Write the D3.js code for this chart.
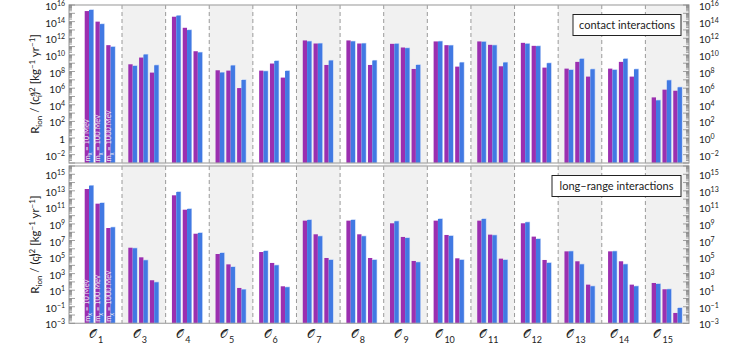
<!DOCTYPE html>
<html>
<head>
<meta charset="utf-8">
<script src="https://cdn.jsdelivr.net/npm/d3@7"></script>
<style>
  body { margin: 0; background: #fff; }
  svg { font-family: Lato, "Open Sans", sans-serif; }
</style>
</head>
<body>
<svg id="chart" width="747" height="347"></svg>
<script>
// operator labels (O2 is not shown)
const operators = ["1", "3", "4", "5", "6", "7", "8", "9", "10", "11", "12", "13", "14", "15"];
const masses = ["10", "100", "1000"];

// log10 of the rate: [m=10, m=100, m=1000] per operator
// contact interactions
const contactPurple = [
  [15.27, 14.0, 11.17], [8.87, 9.68, 7.87], [14.59, 13.26, 10.44], [8.15, 8.11, 6.01],
  [8.11, 8.96, 7.27], [11.74, 11.37, 8.79], [11.74, 11.37, 8.79], [11.33, 10.89, 8.31],
  [11.62, 11.17, 8.59], [11.62, 11.21, 8.63], [11.45, 11.09, 8.47], [8.35, 9.16, 7.39],
  [8.35, 9.16, 7.39], [4.89, 5.82, 5.69]
];
const contactBlue = [
  [15.4, 13.7, 10.96], [8.67, 10.04, 8.75], [14.71, 12.98, 10.29], [7.87, 8.72, 6.98],
  [8.03, 9.27, 8.07], [11.62, 11.37, 9.32], [11.62, 11.37, 9.32], [11.33, 10.81, 8.79],
  [11.62, 11.13, 9.08], [11.57, 11.15, 9.08], [11.33, 11.05, 9.0], [8.19, 9.52, 8.27],
  [8.19, 9.52, 8.27], [4.53, 6.94, 6.1]
];
// long-range interactions
const longPurple = [
  [13.22, 11.45, 8.51], [6.13, 4.97, 2.2], [12.46, 10.72, 7.82], [5.37, 4.12, 1.27],
  [5.61, 4.29, 1.47], [9.4, 7.75, 4.89], [9.4, 7.75, 4.89], [9.08, 7.43, 4.53],
  [9.4, 7.67, 4.85], [9.4, 7.71, 4.81], [9.08, 7.47, 4.65], [5.69, 4.49, 1.67],
  [5.69, 4.49, 1.67], [1.87, 1.11, -1.75]
];
const longBlue = [
  [13.62, 11.53, 8.59], [6.06, 4.61, 1.95], [12.86, 10.81, 7.91], [5.49, 3.8, 1.07],
  [5.73, 4.0, 1.35], [9.48, 7.51, 4.65], [9.48, 7.51, 4.65], [9.32, 7.3, 4.37],
  [9.6, 7.55, 4.65], [9.6, 7.63, 4.65], [9.2, 7.18, 4.29], [5.69, 4.12, 1.47],
  [5.69, 4.12, 1.47], [1.75, 1.11, -1.15]
];

const topLabels = [16, 14, 12, 10, 8, 6, 4, 2, 0, -2];
const bottomLabels = [15, 13, 11, 9, 7, 5, 3, 1, -1, -3];

const purple = "#9b2fb0";
const blue = "#4179e3";

const svg = d3.select("#chart");

const plotLeft = 69, plotRight = 689;
const x = d3.scaleBand().domain(operators).range([78.4, 689]);
const xm = d3.scaleBand().domain(masses).range([6.3, 36.5]).paddingInner(0.2);
const xc = d3.scaleBand().domain(["p", "b"]).range([0, xm.bandwidth()]);

const panels = [
  { top: 5, bottom: 163, purpleVals: contactPurple, blueVals: contactBlue, labels: topLabels,
    title: "contact interactions", sup: "s", boxW: 108 },
  { top: 166, bottom: 323.3, purpleVals: longPurple, blueVals: longBlue, labels: bottomLabels,
    title: "long\u2013range interactions", sup: "l", boxW: 129 }
];

// shading across both panels
operators.forEach((op, i) => {
  if (i % 2 === 1) {
    svg.append("rect")
      .attr("x", x(op)).attr("y", 5)
      .attr("width", x.bandwidth()).attr("height", 323.3 - 5)
      .attr("fill", "#f1f1f1");
  }
});
// dividers
operators.slice(1).forEach(op => {
  svg.append("line")
    .attr("x1", x(op)).attr("x2", x(op))
    .attr("y1", 5).attr("y2", 323.3)
    .attr("stroke", "#9a9a9a").attr("stroke-width", 1)
    .attr("stroke-dasharray", "4,3");
});

function supLabel(sel, base, exp, anchor) {
  const t = sel.append("text")
    .attr("text-anchor", anchor)
    .attr("font-size", 10)
    .attr("fill", "#222");
  t.append("tspan").text(base);
  if (exp !== null) {
    t.append("tspan").attr("dy", -4).attr("font-size", 7).text(exp);
  }
  return t;
}

panels.forEach((p, pi) => {
  const y = d3.scaleLog().domain([1e-3, 1e16]).range([p.bottom, p.top]);
  const g = svg.append("g");

  // bars
  operators.forEach((op, i) => {
    masses.forEach((m, j) => {
      const bx = x(op) + xm(m);
      const vp = Math.pow(10, p.purpleVals[i][j]);
      const vb = Math.pow(10, p.blueVals[i][j]);
      g.append("rect")
        .attr("x", bx + xc("p")).attr("y", y(vp))
        .attr("width", xc.bandwidth()).attr("height", p.bottom - y(vp))
        .attr("fill", purple);
      g.append("rect")
        .attr("x", bx + xc("b") + 0.6).attr("y", y(vb) - 0.6)
        .attr("width", xc.bandwidth()).attr("height", p.bottom - y(vb) + 0.6)
        .attr("fill", "#b4cbf5");
      g.append("rect")
        .attr("x", bx + xc("b")).attr("y", y(vb))
        .attr("width", xc.bandwidth()).attr("height", p.bottom - y(vb))
        .attr("fill", blue);
    });
  });

  // mass labels inside the first group
  masses.forEach(m => {
    const cx = x(operators[0]) + xm(m) + xm.bandwidth() / 2 - 2;
    const t = g.append("text")
      .attr("transform", `translate(${cx},${p.bottom - 1.5}) rotate(-90)`)
      .attr("font-size", 7.5)
      .attr("fill", "#e6e6f2")
      .attr("dy", "0.35em");
    t.append("tspan").text("m");
    t.append("tspan").attr("font-size", 5.5).attr("dy", "0.25em").text("\u03c7");
    t.append("tspan").attr("dy", "-0.25em").text(" = " + m + " MeV");
  });

  // frame
  g.append("rect")
    .attr("x", plotLeft).attr("y", p.top)
    .attr("width", plotRight - plotLeft).attr("height", p.bottom - p.top)
    .attr("fill", "none").attr("stroke", "#a8a8a8").attr("stroke-width", 1.2);

  // ticks, drawn inward on both sides
  for (let e = -3; e <= 16; e++) {
    for (let k = 1; k <= 9; k++) {
      const v = k * Math.pow(10, e);
      if (v > 1e16) break;
      const yy = y(v);
      const len = k === 1 ? 6 : 3;
      g.append("line").attr("x1", plotLeft).attr("x2", plotLeft + len)
        .attr("y1", yy).attr("y2", yy).attr("stroke", "#8a8a8a").attr("stroke-width", 0.8);
      g.append("line").attr("x1", plotRight).attr("x2", plotRight - len)
        .attr("y1", yy).attr("y2", yy).attr("stroke", "#8a8a8a").attr("stroke-width", 0.8);
    }
  }

  // tick labels
  p.labels.forEach(e => {
    const yy = y(Math.pow(10, e)) + 5;
    const expText = e < 0 ? "\u2212" + (-e) : String(e);
    const lt = e === 0 ? supLabel(g, "1", null, "end") : supLabel(g, "10", expText, "end");
    lt.attr("x", 65).attr("y", yy);
    const rt = supLabel(g, "10", expText, "start");
    rt.attr("x", 699).attr("y", yy);
  });

  // axis title
  const cy = (p.top + p.bottom) / 2;
  const tt = g.append("text")
    .attr("transform", `translate(39,${cy}) rotate(-90)`)
    .attr("text-anchor", "middle")
    .attr("font-size", 11.5)
    .attr("fill", "#222");
  tt.append("tspan").text("R");
  tt.append("tspan").attr("font-size", 8).attr("dy", 3).text("ion");
  tt.append("tspan").attr("dy", -3).text(" / (c");
  tt.append("tspan").attr("font-size", 8).attr("dy", -4).text(p.sup);
  tt.append("tspan").attr("font-size", 8).attr("dx", -4).attr("dy", 7).text("i");
  tt.append("tspan").attr("dy", -3).text(")");
  tt.append("tspan").attr("font-size", 8).attr("dy", -4).text("2");
  tt.append("tspan").attr("dy", 4).text(" [kg");
  tt.append("tspan").attr("font-size", 8).attr("dy", -4).text("\u22121");
  tt.append("tspan").attr("dy", 4).text(" yr");
  tt.append("tspan").attr("font-size", 8).attr("dy", -4).text("\u22121");
  tt.append("tspan").attr("dy", 4).text("]");

  // legend box
  const bx = 681 - p.boxW;
  g.append("rect")
    .attr("x", bx).attr("y", p.top + 9.5)
    .attr("width", p.boxW).attr("height", 21)
    .attr("fill", "#fff").attr("stroke", "#222").attr("stroke-width", 1);
  g.append("text")
    .attr("x", bx + p.boxW / 2).attr("y", p.top + 24)
    .attr("text-anchor", "middle")
    .attr("font-size", 11)
    .attr("fill", "#222")
    .text(p.title);
});

// operator labels below
operators.forEach(op => {
  const t = svg.append("text")
    .attr("x", x(op) + x.bandwidth() / 2 - 4)
    .attr("y", 338)
    .attr("text-anchor", "middle")
    .attr("fill", "#222");
  t.append("tspan").attr("font-size", 12).attr("font-family", "DejaVu Serif").text("\ud835\udcaa");
  t.append("tspan").attr("font-size", 9).attr("dy", 5).attr("dx", 1).text(op);
});
</script>
</body>
</html>
